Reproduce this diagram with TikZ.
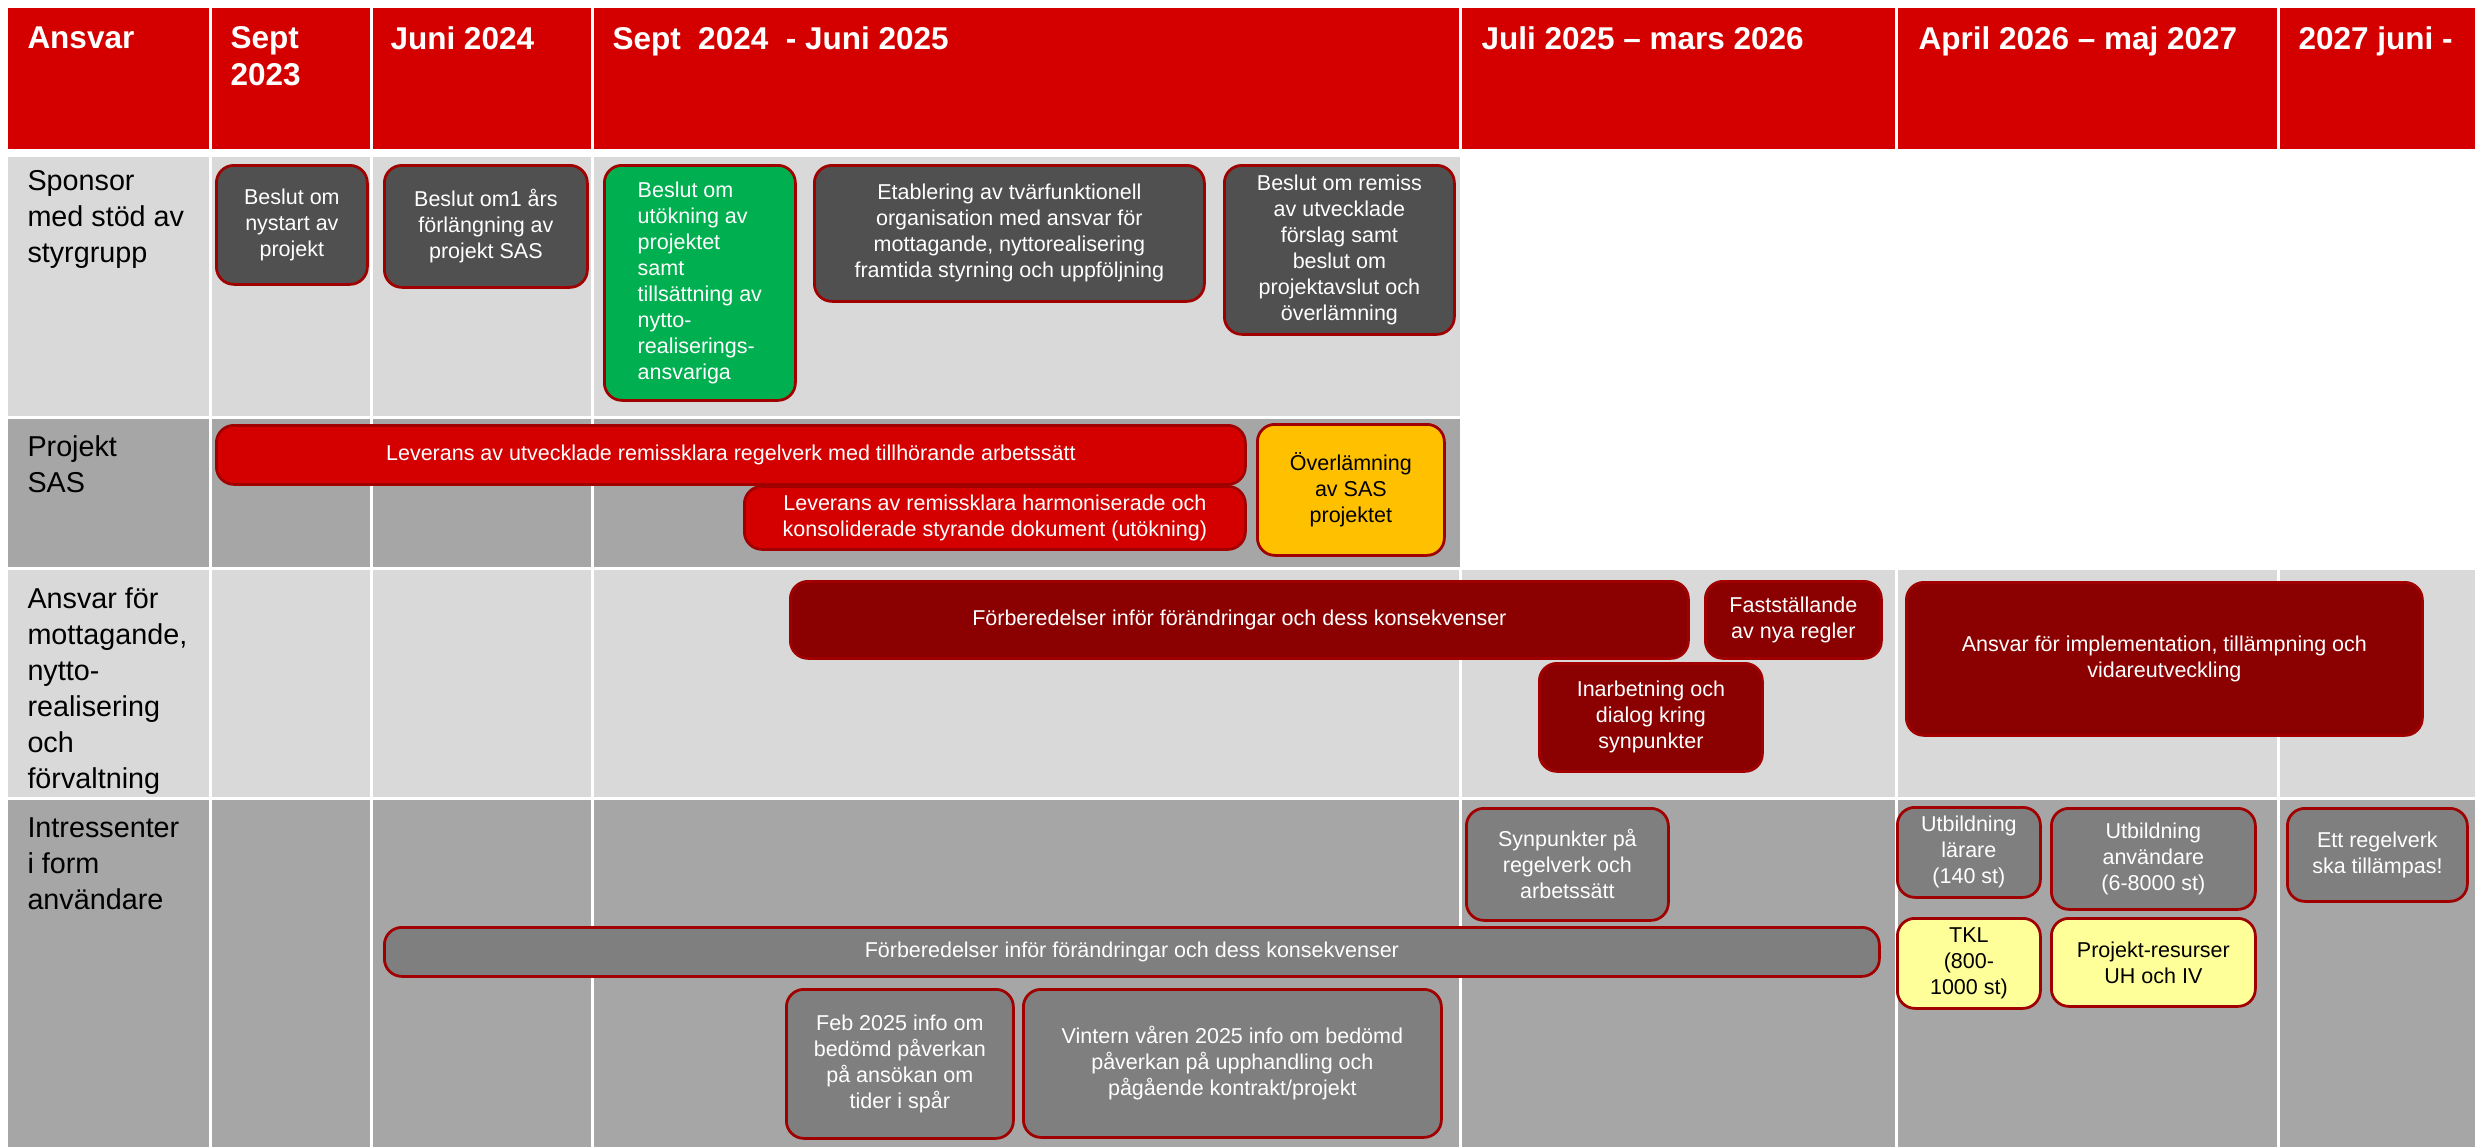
\documentclass[tikz,border=0pt]{standalone}
\usepackage{fontspec}
\setmainfont{Liberation Sans}

\definecolor{hdred}{HTML}{D40000}
\definecolor{rowlt}{HTML}{D9D9D9}
\definecolor{rowdk}{HTML}{A6A6A6}
\definecolor{boxdk}{HTML}{505050}
\definecolor{boxgr}{HTML}{7F7F7F}
\definecolor{boxgn}{HTML}{00B050}
\definecolor{boxrd}{HTML}{8B0000}
\definecolor{boxor}{HTML}{FFC000}
\definecolor{boxye}{HTML}{FFFF99}
\definecolor{edge}{HTML}{A00000}

\tikzset{
  sz/.style 2 args={minimum width=#1*0.4pt, minimum height=#2*0.4pt},
  box/.style={draw=edge, line width=1.1pt, rounded corners=7pt, anchor=north west, align=center, text=white, inner sep=1pt, font=\fontsize{8.6}{10.4}\selectfont},
  hd/.style={anchor=north west, align=left, text=white, inner sep=0pt, font=\fontsize{12.6}{14.8}\selectfont\bfseries},
  lbl/.style={anchor=north west, align=left, inner sep=0pt, font=\fontsize{11.5}{14.4}\selectfont},
}

\begin{document}
\begin{tikzpicture}[x=0.4pt, y=-0.4pt]
	\useasboundingbox (0,0) rectangle (2475,1147);

	% header
	\fill[hdred] (8,8) rectangle (2475,149);
	\foreach \c in {210,371,592,1460,1896,2278}
		\draw[white, line width=1.2pt] (\c,8) -- (\c,149);

	% rows
	\fill[rowlt] (8,157) rectangle (1460,416);
	\fill[rowdk] (8,419) rectangle (1460,567);
	\fill[rowlt] (8,570) rectangle (2475,797);
	\fill[rowdk] (8,800) rectangle (2475,1147);
	\foreach \c in {210,371,592}
		\draw[white, line width=1.2pt] (\c,157) -- (\c,1147);
	\foreach \c in {1460,1896,2278}
		\draw[white, line width=1.2pt] (\c,570) -- (\c,1147);

	\node[hd] (h0) at (27,26) {Ansvar};
	\node[hd] (h1) at (230,26) {Sept\\2023};
	\node[hd] (h2) at (390,26) {Juni 2024};
	\node[hd] (h3) at (612,26) {Sept\ \ 2024\ \ - Juni 2025};
	\node[hd] (h4) at (1481,26) {Juli 2025 – mars 2026};
	\node[hd] (h5) at (1918,26) {April 2026 – maj 2027};
	\node[hd] (h6) at (2298,26) {2027 juni -};

	\node[lbl] (r1) at (27,170) {Sponsor\\med stöd av\\styrgrupp};
	\node[lbl] (r2) at (27,435) {Projekt\\SAS};
	\node[lbl] (r3) at (27,587) {Ansvar för\\mottagande,\\nytto-\\realisering\\och\\förvaltning};
	\node[lbl] (r4) at (27,817) {Intressenter\\i form\\användare};

	% sponsor
	\node[box, fill=boxdk, sz={151}{119}] (sA) at (215,164) {Beslut om\\nystart av\\projekt};
	\node[box, fill=boxdk, sz={203}{122}] (sB) at (383,164) {Beslut om1 års\\förlängning av\\projekt SAS};
	\node[box, fill=boxgn, sz={191}{235}, align=left] (sC) at (603,164) {Beslut om\\utökning av\\projektet\\samt\\tillsättning av\\nytto-\\realiserings-\\ansvariga};
	\node[box, fill=boxdk, sz={390}{136}] (sD) at (813,164) {Etablering av tvärfunktionell\\organisation med ansvar för\\mottagande, nyttorealisering\\framtida styrning och uppföljning};
	\node[box, fill=boxdk, sz={230}{169}] (sE) at (1223,164) {Beslut om remiss\\av utvecklade\\förslag samt\\beslut om\\projektavslut och\\överlämning};

	% projekt SAS
	\node[box, fill=hdred, sz={1029}{59}] (pA) at (215,424) {Leverans av utvecklade remissklara regelverk med tillhörande arbetssätt};
	\node[box, fill=hdred, sz={501}{63}] (pB) at (743,485) {Leverans av remissklara harmoniserade och\\konsoliderade styrande dokument (utökning)};
	\node[box, fill=boxor, sz={187}{131}, text=black] (pC) at (1256,423) {Överlämning\\av SAS\\projektet};

	% mottagande
	\node[box, fill=boxrd, sz={898}{77}] (mA) at (789,580) {Förberedelser inför förändringar och dess konsekvenser};
	\node[box, fill=boxrd, sz={176}{77}] (mB) at (1704,580) {Fastställande\\av nya regler};
	\node[box, fill=boxrd, sz={223}{108}] (mC) at (1538,662) {Inarbetning och\\dialog kring\\synpunkter};
	\node[box, fill=boxrd, sz={516}{153}] (mD) at (1905,581) {Ansvar för implementation, tillämpning och\\vidareutveckling};

	% intressenter
	\node[box, fill=boxgr, sz={202}{112}] (iA) at (1465,807) {Synpunkter på\\regelverk och\\arbetssätt};
	\node[box, fill=boxgr, sz={1495}{49}] (iB) at (383,926) {Förberedelser inför förändringar och dess konsekvenser};
	\node[box, fill=boxgr, sz={143}{90}] (iC) at (1896,806) {Utbildning\\lärare\\(140 st)};
	\node[box, fill=boxgr, sz={204}{101}] (iD) at (2050,807) {Utbildning\\användare\\(6-8000 st)};
	\node[box, fill=boxgr, sz={180}{93}] (iE) at (2286,807) {Ett regelverk\\ska tillämpas!};
	\node[box, fill=boxye, sz={143}{90}, text=black] (iF) at (1896,917) {TKL\\(800-\\1000 st)};
	\node[box, fill=boxye, sz={204}{88}, text=black] (iG) at (2050,917) {Projekt-resurser\\UH och IV};
	\node[box, fill=boxgr, sz={227}{149}] (iH) at (785,988) {Feb 2025 info om\\bedömd påverkan\\på ansökan om\\tider i spår};
	\node[box, fill=boxgr, sz={418}{148}] (iI) at (1022,988) {Vintern våren 2025 info om bedömd\\påverkan på upphandling och\\pågående kontrakt/projekt};
\end{tikzpicture}
\end{document}
